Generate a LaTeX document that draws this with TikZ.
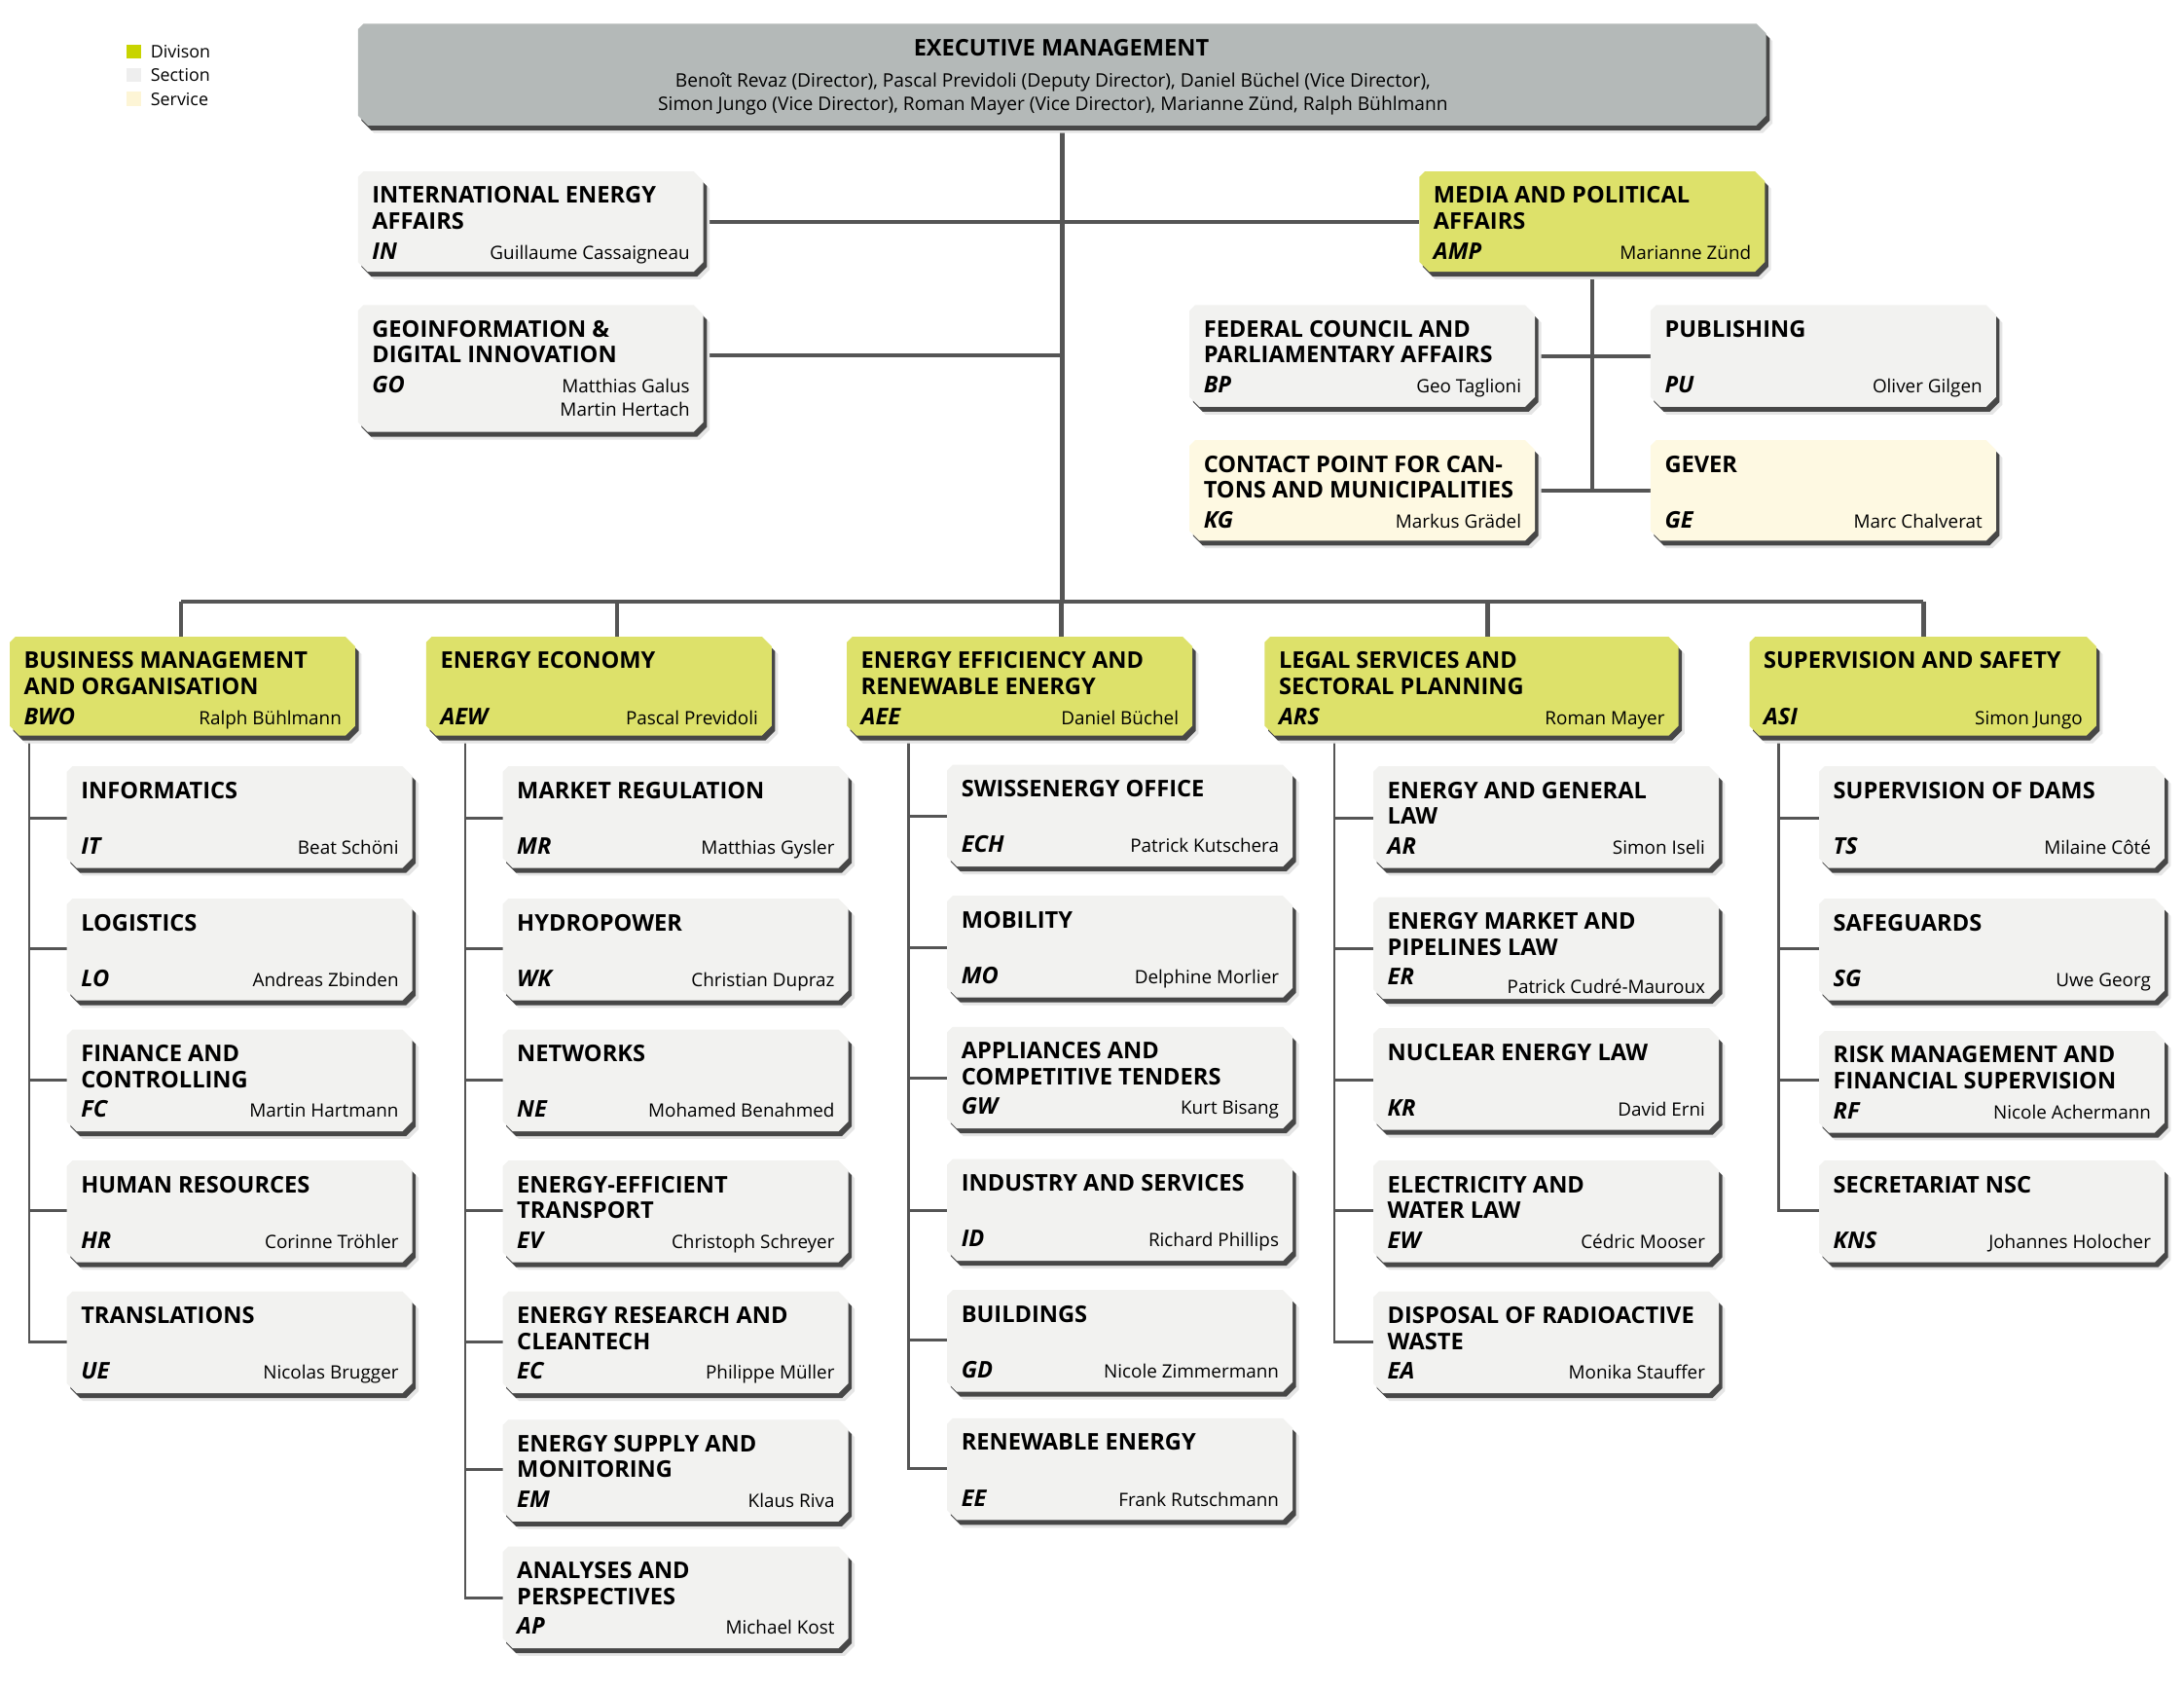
\documentclass[tikz,border=0pt]{standalone}
\usepackage{fontspec}
\setmainfont{Open Sans}
\usetikzlibrary{calc}
\definecolor{divc}{HTML}{DDE16A}
\definecolor{secc}{HTML}{F2F2F0}
\definecolor{serc}{HTML}{FEF9E2}
\definecolor{exec}{HTML}{B4B9B8}
\definecolor{legdiv}{HTML}{C8D400}
\definecolor{legsec}{HTML}{EEEEEE}
\definecolor{legser}{HTML}{FDF5D6}
\definecolor{linec}{HTML}{555555}
\tikzset{
  trunk/.style={draw=linec, line width=3pt},
  subline/.style={draw=linec, line width=2pt},
  ttl/.style={anchor=base west, inner sep=0pt},
  cod/.style={anchor=base west, inner sep=0pt, font=\fontsize{16.5}{18.6}\selectfont\bfseries\itshape},
  nam/.style={anchor=base east, inner sep=0pt, font=\fontsize{13.2}{17}\selectfont},
  legtxt/.style={anchor=base west, inner sep=0pt, font=\fontsize{12.5}{15}\selectfont},
  frame/.style={rectangle, draw=none, inner sep=0pt, anchor=north west}
}
% chamfered polygon: x, y, w, h
\newcommand\champath[4]{(#1,#2+4) -- (#1+4,#2) -- (#1+#3-7,#2) -- (#1+#3,#2+7) -- (#1+#3,#2+#4-7) -- (#1+#3-7,#2+#4) -- (#1+7,#2+#4) -- (#1,#2+#4-7) -- cycle}
% name, fill, x, y, w, h
\newcommand\chbox[6]{%
  \fill[black!10] [shift={(4.5,5.5)}] \champath{#3}{#4}{#5}{#6};
  \fill[black!72] [shift={(2.5,3.5)}] \champath{#3}{#4}{#5}{#6};
  \fill[#2] \champath{#3}{#4}{#5}{#6};
  \node[frame, minimum width=#5pt, minimum height=#6pt] (#1) at (#3,#4) {};
}
% name, fill, x, y, w, h, title, code, person
\newcommand\orgbox[9]{%
  \chbox{#1}{#2}{#3}{#4}{#5}{#6}
  \node[ttl] (#1-t) at ([xshift=10pt,yshift=-23pt]#1.north west) {\parbox[t]{280pt}{\raggedright\fontsize{16.5}{18.6}\selectfont\bfseries #7}};
  \node[cod] (#1-c) at ([xshift=10pt,yshift=-63pt]#1.north west) {#8};
  \node[nam] (#1-n) at ([xshift=-10pt,yshift=-63pt]#1.north east) {#9};
}
\begin{document}
\begin{tikzpicture}[x=1pt,y=-1pt]
\fill[white] (0,0) rectangle (1568,1213);
\useasboundingbox (0,0) rectangle (1568,1213);

% legend
\fill[legdiv] (91,32) rectangle (101,42);
\fill[legsec] (91,49) rectangle (101,59);
\fill[legser] (91,66) rectangle (101,76);
\node[legtxt] (lg1) at (108,41.5) {Divison};
\node[legtxt] (lg2) at (108,58.5) {Section};
\node[legtxt] (lg3) at (108,76) {Service};

% ---------- coordinates for connectors
\coordinate (busL) at (130,432);
\coordinate (busR) at (1381,432);
\coordinate (d1) at (130,432);
\coordinate (d2) at (443,432);
\coordinate (d3) at (762,432);
\coordinate (d4) at (1068,432);
\coordinate (d5) at (1381,432);
\coordinate (gojoin) at (762,255);
\coordinate (vbwo) at (21,528);
\coordinate (vaew) at (334,528);
\coordinate (vaee) at (652,528);
\coordinate (vars) at (958,528);
\coordinate (vasi) at (1277,528);

% invisible frames first so that connectors can use their names
\node[frame, minimum width=1011pt, minimum height=73pt] (exec) at (257,17) {};
\node[frame, minimum width=248pt, minimum height=72pt] (in) at (257,123) {};
\node[frame, minimum width=248pt, minimum height=91pt] (go) at (257,219) {};
\node[frame, minimum width=248pt, minimum height=72pt] (amp) at (1019,123) {};
\node[frame, minimum width=248pt, minimum height=73pt] (bp) at (854,219) {};
\node[frame, minimum width=248pt, minimum height=73pt] (pu) at (1185,219) {};
\node[frame, minimum width=248pt, minimum height=72pt] (kg) at (854,316) {};
\node[frame, minimum width=248pt, minimum height=72pt] (ge) at (1185,316) {};

% ---------- connectors (drawn under the boxes)
\draw[trunk] (exec.south) -- (exec.south |- busL);
\draw[trunk] (busL) -- (busR);
\draw[trunk] (in.east) -- (amp.west);
\draw[trunk] (go.east |- gojoin) -- (gojoin);
\draw[trunk] (amp.south) -- (amp.south |- kg.east);
\draw[trunk] (bp.east) -- (pu.west);
\draw[trunk] (kg.east) -- (ge.west);
\foreach \d in {d1,d2,d3,d4,d5} { \draw[trunk] (\d) -- ++(0,27); }

% sub-connectors
\draw[subline] (vbwo) -- (21,963) -- (48,963);
\foreach \yy in {587,681,775,869} { \draw[subline] (21,\yy) -- (48,\yy); }
\draw[subline] (vaew) -- (334,1147) -- (361,1147);
\foreach \yy in {587,681,775,869,963,1055} { \draw[subline] (334,\yy) -- (361,\yy); }
\draw[subline] (vaee) -- (652,1054) -- (680,1054);
\foreach \yy in {586,680,774,869,962} { \draw[subline] (652,\yy) -- (680,\yy); }
\draw[subline] (vars) -- (958,963) -- (986,963);
\foreach \yy in {587,681,775,869} { \draw[subline] (958,\yy) -- (986,\yy); }
\draw[subline] (vasi) -- (1277,869) -- (1306,869);
\foreach \yy in {587,681,775} { \draw[subline] (1277,\yy) -- (1306,\yy); }

% ---------- executive management
\fill[black!10] [shift={(4.5,5.5)}] \champath{257}{17}{1011}{73};
\fill[black!72] [shift={(2.5,3.5)}] \champath{257}{17}{1011}{73};
\fill[exec] \champath{257}{17}{1011}{73};
\node[anchor=base, inner sep=0pt, font=\fontsize{16.5}{18.6}\selectfont\bfseries] (exec-t) at (762,40) {EXECUTIVE MANAGEMENT};
\node[anchor=base, inner sep=0pt, font=\fontsize{13.4}{17}\selectfont] (exec-n1) at (756,62.5) {Benoît Revaz (Director), Pascal Previdoli (Deputy Director), Daniel Büchel (Vice Director),};
\node[anchor=base, inner sep=0pt, font=\fontsize{13.4}{17}\selectfont] (exec-n2) at (756,79.5) {Simon Jungo (Vice Director), Roman Mayer (Vice Director), Marianne Zünd, Ralph Bühlmann};

% ---------- staff units
\orgbox{in}{secc}{257}{123}{248}{72}{INTERNATIONAL ENERGY\\AFFAIRS}{IN}{Guillaume Cassaigneau}
\orgbox{go}{secc}{257}{219}{248}{91}{GEOINFORMATION \&\\DIGITAL INNOVATION}{GO}{Matthias Galus}
\node[nam] (go-n2) at ([xshift=-10pt,yshift=-80pt]go.north east) {Martin Hertach};
\orgbox{amp}{divc}{1019}{123}{248}{72}{MEDIA AND POLITICAL\\AFFAIRS}{AMP}{Marianne Zünd}
\orgbox{bp}{secc}{854}{219}{248}{73}{FEDERAL COUNCIL AND\\PARLIAMENTARY AFFAIRS}{BP}{Geo Taglioni}
\orgbox{pu}{secc}{1185}{219}{248}{73}{PUBLISHING}{PU}{Oliver Gilgen}
\orgbox{kg}{serc}{854}{316}{248}{72}{CONTACT POINT FOR CAN-\\TONS AND MUNICIPALITIES}{KG}{Markus Grädel}
\orgbox{ge}{serc}{1185}{316}{248}{72}{GEVER}{GE}{Marc Chalverat}

% ---------- divisions
\orgbox{bwo}{divc}{7}{457}{248}{71}{BUSINESS MANAGEMENT\\AND ORGANISATION}{BWO}{Ralph Bühlmann}
\orgbox{aew}{divc}{306}{457}{248}{71}{ENERGY ECONOMY}{AEW}{Pascal Previdoli}
\orgbox{aee}{divc}{608}{457}{248}{71}{ENERGY EFFICIENCY AND\\RENEWABLE ENERGY}{AEE}{Daniel Büchel}
\orgbox{ars}{divc}{908}{457}{297}{71}{LEGAL SERVICES AND\\SECTORAL PLANNING}{ARS}{Roman Mayer}
\orgbox{asi}{divc}{1256}{457}{249}{71}{SUPERVISION AND SAFETY}{ASI}{Simon Jungo}

% ---------- BWO sections
\orgbox{it}{secc}{48}{550}{248}{73}{INFORMATICS}{IT}{Beat Schöni}
\orgbox{lo}{secc}{48}{645}{248}{73}{LOGISTICS}{LO}{Andreas Zbinden}
\orgbox{fc}{secc}{48}{739}{248}{73}{FINANCE AND\\CONTROLLING}{FC}{Martin Hartmann}
\orgbox{hr}{secc}{48}{833}{248}{73}{HUMAN RESOURCES}{HR}{Corinne Tröhler}
\orgbox{ue}{secc}{48}{927}{248}{73}{TRANSLATIONS}{UE}{Nicolas Brugger}

% ---------- AEW sections
\orgbox{mr}{secc}{361}{550}{248}{73}{MARKET REGULATION}{MR}{Matthias Gysler}
\orgbox{wk}{secc}{361}{645}{248}{73}{HYDROPOWER}{WK}{Christian Dupraz}
\orgbox{ne}{secc}{361}{739}{248}{73}{NETWORKS}{NE}{Mohamed Benahmed}
\orgbox{ev}{secc}{361}{833}{248}{73}{ENERGY-EFFICIENT\\TRANSPORT}{EV}{Christoph Schreyer}
\orgbox{ec}{secc}{361}{927}{248}{73}{ENERGY RESEARCH AND\\CLEANTECH}{EC}{Philippe Müller}
\orgbox{em}{secc}{361}{1019}{248}{73}{ENERGY SUPPLY AND\\MONITORING}{EM}{Klaus Riva}
\orgbox{ap}{secc}{361}{1110}{248}{73}{ANALYSES AND\\PERSPECTIVES}{AP}{Michael Kost}

% ---------- AEE sections
\orgbox{ech}{secc}{680}{549}{248}{73}{SWISSENERGY OFFICE}{ECH}{Patrick Kutschera}
\orgbox{mo}{secc}{680}{643}{248}{73}{MOBILITY}{MO}{Delphine Morlier}
\orgbox{gw}{secc}{680}{737}{248}{73}{APPLIANCES AND\\COMPETITIVE TENDERS}{GW}{Kurt Bisang}
\orgbox{id}{secc}{680}{832}{248}{73}{INDUSTRY AND SERVICES}{ID}{Richard Phillips}
\orgbox{gd}{secc}{680}{926}{248}{73}{BUILDINGS}{GD}{Nicole Zimmermann}
\orgbox{ee}{secc}{680}{1018}{248}{73}{RENEWABLE ENERGY}{EE}{Frank Rutschmann}

% ---------- ARS sections
\orgbox{ar}{secc}{986}{550}{248}{73}{ENERGY AND GENERAL\\LAW}{AR}{Simon Iseli}
\orgbox{er}{secc}{986}{644}{248}{73}{ENERGY MARKET AND\\PIPELINES LAW}{ER}{\raisebox{-6pt}{Patrick Cudré-Mauroux}}
\orgbox{kr}{secc}{986}{738}{248}{73}{NUCLEAR ENERGY LAW}{KR}{David Erni}
\orgbox{ew}{secc}{986}{833}{248}{73}{ELECTRICITY AND\\WATER LAW}{EW}{Cédric Mooser}
\orgbox{ea}{secc}{986}{927}{248}{73}{DISPOSAL OF RADIOACTIVE\\WASTE}{EA}{Monika Stauffer}

% ---------- ASI sections
\orgbox{ts}{secc}{1306}{550}{248}{73}{SUPERVISION OF DAMS}{TS}{Milaine Côté}
\orgbox{sg}{secc}{1306}{645}{248}{73}{SAFEGUARDS}{SG}{Uwe Georg}
\orgbox{rf}{secc}{1306}{740}{248}{73}{RISK MANAGEMENT AND\\FINANCIAL SUPERVISION}{RF}{Nicole Achermann}
\orgbox{kns}{secc}{1306}{833}{248}{73}{SECRETARIAT NSC}{KNS}{Johannes Holocher}
\end{tikzpicture}
\end{document}
